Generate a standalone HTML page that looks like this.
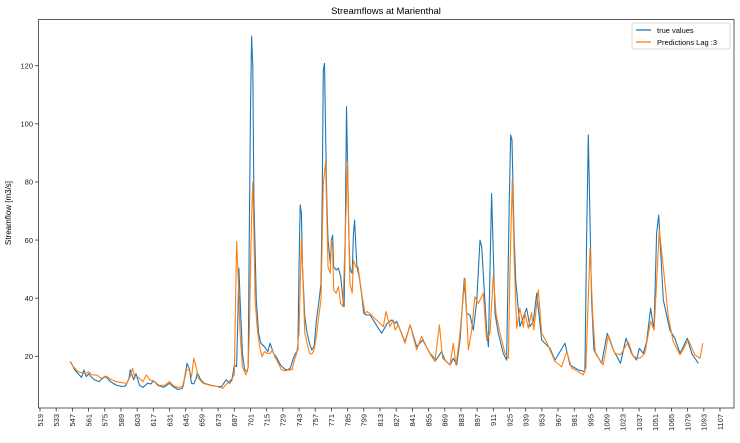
<!DOCTYPE html>
<html><head><meta charset="utf-8"><style>
body{margin:0;background:#fff;}
svg{font-family:"Liberation Sans","DejaVu Sans",sans-serif;}
</style></head><body>
<svg id="chart" width="740" height="438" viewBox="0 0 740 438" xmlns="http://www.w3.org/2000/svg">
<rect x="0" y="0" width="740" height="438" fill="#fff"/>
<text x="386" y="14" font-size="9.5" text-anchor="middle">Streamflows at Marienthal</text>
<text transform="translate(11,213) rotate(-90)" font-size="8" text-anchor="middle">Streamflow [m3/s]</text>
<g id="grid"></g>
<g id="series"></g>
<rect x="38.5" y="19.5" width="695.5" height="388.5" fill="none" stroke="#333" stroke-width="0.8"/>
<g id="axes"></g>
<g>
<rect x="632" y="23" width="98" height="26" fill="#fff" stroke="#ccc" stroke-width="0.8" rx="2"/>
<line x1="636" y1="30" x2="651" y2="30" stroke="#1f77b4" stroke-width="1.3"/>
<text x="657" y="33" font-size="7.5">true values</text>
<line x1="636" y1="42" x2="651" y2="42" stroke="#ff7f0e" stroke-width="1.3"/>
<text x="657" y="45" font-size="7.5">Predictions Lag :3</text>
</g>
</svg>
<script>
const xTicks=[519,533,547,561,575,589,603,617,631,645,659,673,687,701,715,729,743,757,771,785,799,813,827,841,855,869,883,897,911,925,939,953,967,981,995,1009,1023,1037,1051,1065,1079,1093,1107];
const yTicks=[20,40,60,80,100,120];
const trueX=[545,547,549,552,555,557,559,561,563,566,570,573,576,580,585,590,593,596,597,600,602,605,608,612,615,617,621,626,631,634,638,642,645,646,648,650,652,654,655,658,661,667,672,676,680,683,685,687,689,690,691,692,694,696,698,699,700,701,702,703,704,706,708,710,713,716,718,719,721,724,727,731,735,738,740,742,743,744,745,746,748,750,752,754,756,758,760,762,763,764,765,766,767,768,770,771,772,773,775,777,779,781,782,783,784,785,786,787,788,789,790,791,792,793,795,797,799,801,804.4,814.4,819.3,823,826,827.4,834.6,839,844.7,849.9,856.2,861.4,866.3,869.2,873.5,876.4,879.3,882.2,885.9,887.9,890.8,893.7,896.6,899.5,900.9,905.2,906.7,909.5,912.4,915.3,919.6,922.5,924.8,926,927.1,928.9,930.3,934,939.8,942.7,945.6,948.5,952.8,960,964.3,973,977.3,984.5,990.2,991.7,993.1,996,998,1004.6,1009.5,1014.7,1021,1025.7,1030.6,1034.9,1037.2,1040.7,1043.5,1047,1049.9,1052.2,1054,1058,1063.7,1068,1072.4,1078.7,1082.5,1088.2];
const trueY=[18.2,17,15.3,14,12.7,15.3,13,14,13,11.9,11.3,12.4,13,11.3,10.1,9.6,9.8,12.4,15.3,11.9,14,10,9.3,10.7,10.5,11.6,10,9.3,10.7,9.6,8.6,8.9,14,17.6,15.9,10.7,10.5,12.4,14.4,11.9,10.7,10,9.6,9.6,11.9,10.7,11.9,17,16.4,32.5,50.3,39.4,21,15.3,14.7,16.4,62.3,104.7,130.2,119.7,73.8,39.4,27.9,24.5,23.3,21.6,24.5,23.3,21,19.3,17,15.5,15.3,19.3,21,22.2,50.8,72.1,69.2,50.8,33.6,27.9,24.5,22.2,23.3,32.5,38.2,45.1,73.8,118.5,120.8,96.7,73.8,60,52,60,61.7,50.8,49.7,50.3,47.4,39.4,37.1,62.3,105.9,85.3,62.3,50.8,49.1,48.6,61.7,66.9,58.9,50.8,47.4,41.7,34.8,34.2,34.2,27.9,31.4,32.5,31.4,32,25,30.8,23.3,25.6,21,18.7,21.6,18.7,17,19.3,17,25.6,46.8,34.8,34.2,29,38.8,60,57.7,29,23.3,76,34.8,27.9,21,18.7,73.8,96.2,94.4,62.3,46.2,30.2,36.5,30.2,32,41.7,25.6,22.7,18.7,24.5,17,15.3,14.7,62.3,96.2,39.4,22.2,17.6,27.9,22.2,17.6,26.2,21,18.7,22.7,21,25,36.5,29,62.3,68.6,39.4,29,26.2,21,26.2,21,17.6];
const predX=[546,548,552,558,561,564,568,572,576,580,585,590,594,597,599,601,603,605,608,611,614,618,622,627,631,634,638,643,645,648,650,652,654,656,660,666,672,677,681,685,687,689,690,692,694,697,699,700,701,702,703,704,705,707,709,711,713,716,718,720,722,725,728,732,735,737,739,741,743,745,746,748,750,752,754,756,758,760,762,764,766,767,768,770,771,772,773,775,777,779,781,783,785,786,787,789,790,792,794,796,798,800,802,804,808.6,815.9,818.2,821.6,824.5,826,828.8,834.6,839,844.7,849,856,860.5,864.4,867.2,873.5,876.4,878.7,881.6,886.5,889.4,892.3,895.1,898,902.3,905.2,908.1,911,913.3,916.2,921.1,924,925.4,927.4,929.2,931.2,934,937,938.4,941.2,944,946,949.9,952.8,957,964.3,970,974.4,978.7,984.5,988.8,991,994.6,997,999.3,1006,1010.4,1016,1021,1027.6,1032,1037.8,1042,1047,1050,1054.5,1058,1062.3,1066.6,1072.4,1079.6,1085.3,1089.7,1092];
const predY=[17.5,16.4,14.7,14,14.7,13.6,13.6,12.4,13.2,12.1,11.3,10.9,10.7,13,15.9,13,13,12.4,11.3,13.6,11.9,11.3,10,10,11.3,10,9.3,9.6,15.3,15.3,13,19.3,16.4,12.4,10.7,10,9.6,9,10.7,12.4,13.6,59.5,50.8,27.9,16.4,13.6,16.4,27.9,50.8,68,80,62.3,39.4,29,23.3,19.9,21.6,21,21,22.2,19.9,17.6,15.3,15,16,15.3,18.7,21,27.9,60.6,50.8,27.9,24.5,21,20.8,22.2,26.8,33.6,39.4,79.5,87,69.2,50.8,48.6,60,56.6,42.8,41.7,44,38.2,37.1,62.3,87,62.3,45.1,41.7,53.1,50.8,50.8,45.1,39.4,34.8,35.4,34.8,33,30.2,35.4,30.2,32.5,29,30.8,24.5,30.8,22.2,26.8,21,18.2,30.8,19.3,17,24.5,17,25.6,46.8,22.2,29,40.5,38.2,41.7,25.6,27.9,48,34.8,29,21,19.3,50.8,80.7,50.8,29.6,36.5,30,35,29.6,35,29,42.8,27.9,25,18.2,16.4,21.6,16,14.7,13.6,16,57.2,33.6,21,17,27.3,21,20.5,25,19.9,19.3,21,32,29,63.5,50.8,33.6,25,20.5,25.6,20.5,19.3,24.5];

const X0=519,X1=1107,PX0=40,PX1=720;
const Y0=0,Y1=120,PY0=414.4,PY1=65.7;
function sx(v){return PX0+(v-X0)*(PX1-PX0)/(X1-X0);}
function sy(v){return PY0+(v-Y0)*(PY1-PY0)/(Y1-Y0);}
const NS='http://www.w3.org/2000/svg';
const axes=document.getElementById('axes');
const series=document.getElementById('series');
function mk(tag,attrs,parent){const e=document.createElementNS(NS,tag);for(const k in attrs)e.setAttribute(k,attrs[k]);parent.appendChild(e);return e;}
xTicks.forEach(t=>{
  const x=sx(t);
  const tk=mk('line',{x1:x,y1:408,x2:x,y2:411.5,stroke:'#333','stroke-width':0.8},axes);
  
  
  const lb=mk('text',{transform:`translate(${x+2.8},414) rotate(-90)`,'font-size':7.5,'text-anchor':'end',fill:'#222'},axes);
  lb.textContent=t;
  
  
});
yTicks.forEach(t=>{
  const y=sy(t);
  const tk=mk('line',{x1:35,y1:y,x2:38.5,y2:y,stroke:'#333','stroke-width':0.8},axes);
  
  
  const lb=mk('text',{x:33,y:y+2.7,'font-size':7.5,'text-anchor':'end',fill:'#222'},axes);
  lb.textContent=t;
  
  
});
function line(xs,ys,color,name){
  const d=xs.map((x,i)=>(i?'L':'M')+sx(x).toFixed(1)+','+sy(ys[i]).toFixed(1)).join('');
  const p=mk('path',{d:d,fill:'none',stroke:color,'stroke-width':1.1,'stroke-linejoin':'round'},series);
  
  
}
line(trueX,trueY,'#1f77b4','true-values-line');
line(predX,predY,'#ff7f0e','predictions-line');
</script>
</body></html>
